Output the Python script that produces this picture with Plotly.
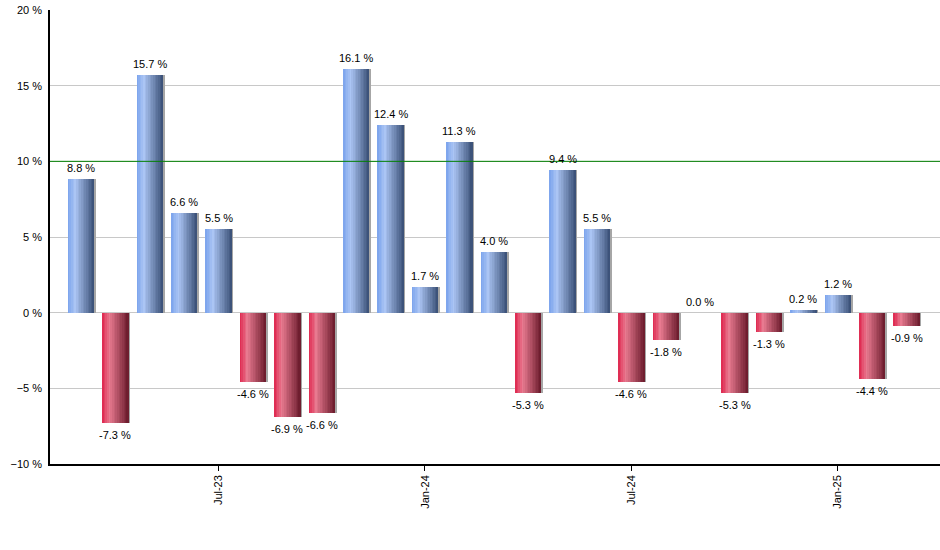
import plotly.graph_objects as go

months = ["Mar-23","Apr-23","May-23","Jun-23","Jul-23","Aug-23","Sep-23","Oct-23","Nov-23","Dec-23",
          "Jan-24","Feb-24","Mar-24","Apr-24","May-24","Jun-24","Jul-24","Aug-24","Sep-24","Oct-24",
          "Nov-24","Dec-24","Jan-25","Feb-25","Mar-25"]
values = [8.8, -7.3, 15.7, 6.6, 5.5, -4.6, -6.9, -6.6, 16.1, 12.4,
          1.7, 11.3, 4.0, -5.3, 9.4, 5.5, -4.6, -1.8, 0.0, -5.3,
          -1.3, 0.2, 1.2, -4.4, -0.9]
tick_labels = ["Jul-23", "Jan-24", "Jul-24", "Jan-25"]
target = 10.0

def hex2rgb(h):
    h = h.lstrip("#")
    return tuple(int(h[i:i+2], 16) for i in (0, 2, 4))

def grad(stops, t):
    for (t0, c0), (t1, c1) in zip(stops[:-1], stops[1:]):
        if t0 <= t <= t1:
            f = (t - t0) / (t1 - t0) if t1 > t0 else 0
            a, b = hex2rgb(c0), hex2rgb(c1)
            return "rgb(%d,%d,%d)" % tuple(round(a[i] + (b[i] - a[i]) * f) for i in range(3))
    return stops[-1][1]

blue_stops = [(0.0, "#7aa2ec"), (0.28, "#abc5f4"), (1.0, "#384e74")]
red_stops = [(0.0, "#de244c"), (0.28, "#e87a90"), (1.0, "#6a1a2b")]

W = 0.77
N = 16
fig = go.Figure()

# shadow
fig.add_trace(go.Bar(x=months, y=values, width=W + 0.015, offset=-W / 2 + 0.03,
                     marker=dict(color="#a6a6a6", line=dict(width=0)),
                     hoverinfo="skip", showlegend=False))
for k in range(N):
    t = (k + 0.5) / N
    cols = [grad(blue_stops, t) if v >= 0 else grad(red_stops, t) for v in values]
    wk = W / N * (1.8 if k < N - 1 else 1.0)
    fig.add_trace(go.Bar(x=months, y=values, width=wk, offset=-W / 2 + k * W / N,
                         marker=dict(color=cols, line=dict(width=0)),
                         hoverinfo="skip", showlegend=False))

for m, v in zip(months, values):
    pos = v >= 0
    fig.add_annotation(x=m, y=v, text=f"{v:.1f} %", showarrow=False,
                       yanchor="bottom" if pos else "top", yshift=3 if pos else -4,
                       font=dict(family="Liberation Sans, Arial", size=11, color="#000000"))

fig.add_shape(type="line", xref="paper", x0=0, x1=1, yref="y", y0=target, y1=target,
              line=dict(color="#008000", width=1), layer="above")

fig.update_layout(
    width=940, height=550,
    margin=dict(l=50, r=0, t=10, b=86),
    paper_bgcolor="white", plot_bgcolor="white",
    barmode="overlay", bargap=0,
    font=dict(family="Liberation Sans, Arial", size=11, color="#000000"),
    xaxis=dict(type="category", categoryorder="array", categoryarray=months,
               range=[-0.9, 24.97], tickmode="array", tickvals=tick_labels, ticktext=tick_labels,
               tickangle=-90, ticks="outside", ticklen=5, tickcolor="black",
               showline=True, linecolor="black", linewidth=1.5, showgrid=False, zeroline=False,
               fixedrange=True),
    yaxis=dict(range=[-10, 20], dtick=5, tick0=0, ticksuffix=" %", showgrid=True,
               gridcolor="#c8c8c8", gridwidth=1, zeroline=True, zerolinecolor="#c8c8c8",
               zerolinewidth=1, showline=True, linecolor="black", linewidth=1.5,
               ticks="", ticklabelstandoff=4),
)

fig.write_html("out.html")
